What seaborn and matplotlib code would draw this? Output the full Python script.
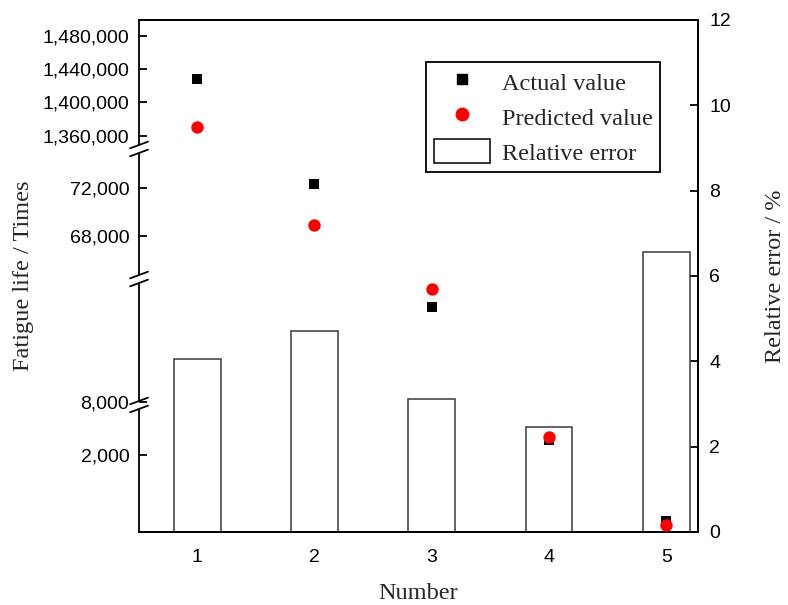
import numpy as np
import matplotlib
matplotlib.use('Agg')
import matplotlib.pyplot as plt
import seaborn as sns
from matplotlib.lines import Line2D
from matplotlib.patches import Patch
from matplotlib.ticker import FixedLocator, FuncFormatter, NullLocator

sns.set_theme(style="ticks")
plt.rcParams['font.family'] = ['Liberation Sans', 'DejaVu Sans']
serif = ['Liberation Serif', 'DejaVu Serif']

# data
number = [1, 2, 3, 4, 5]
actual = [1427700, 72380, 9613, 2241, 904]
predicted = [1370000, 68930, 9913, 2297, 845]
rel_error = [4.05, 4.71, 3.12, 2.46, 6.56]

left_ticks = [2000, 8000, 68000, 72000, 1360000, 1400000, 1440000, 1480000]
right_ticks = [0, 2, 4, 6, 8, 10, 12]

# broken left axis: value range of each piece and where it ends (axes fraction)
seg_lo = [722, 7949, 64375, 1344025]
seg_hi = [2830, 10081, 75323, 1498860]
seg_top = [0.248, 0.494, 0.748, 1.0]

vk, fk = [], []
start = 0.0
for lo, hi, top in zip(seg_lo, seg_hi, seg_top):
    vk += [lo, hi]
    fk += [start, top]
    start = top + 1e-9
vk = np.array(vk, float)
fk = np.array(fk, float)
s_lo = (fk[1] - fk[0]) / (vk[1] - vk[0])
s_hi = (fk[-1] - fk[-2]) / (vk[-1] - vk[-2])


def fwd(v):
    v = np.asarray(v, float)
    out = np.interp(v, vk, fk)
    out = np.where(v < vk[0], fk[0] + (v - vk[0]) * s_lo, out)
    out = np.where(v > vk[-1], fk[-1] + (v - vk[-1]) * s_hi, out)
    return out


def inv(f):
    f = np.asarray(f, float)
    out = np.interp(f, fk, vk)
    out = np.where(f < fk[0], vk[0] + (f - fk[0]) / s_lo, out)
    out = np.where(f > fk[-1], vk[-1] + (f - fk[-1]) / s_hi, out)
    return out


fig = plt.figure(figsize=(7.88, 6.05), dpi=100)
ax = fig.add_axes([0.1764, 0.1207, 0.7094, 0.8463])
ax2 = ax.twinx()

# relative error bars on the right axis
sns.barplot(x=number, y=rel_error, native_scale=True, width=0.4, color='white',
            edgecolor='#3a3a3a', linewidth=1.1, errorbar=None, ax=ax2)
ax2.set_ylim(0, 12)
ax2.set_yticks(right_ticks)
ax2.set_ylabel('Relative error / %', family=serif, fontsize=17.5)
ax2.yaxis.set_label_coords(1.12, 0.5)

# fatigue life points on the broken left axis
ax.set_zorder(ax2.get_zorder() + 1)
ax.patch.set_visible(False)
ax.set_yscale('function', functions=(fwd, inv))
sns.scatterplot(x=number, y=actual, marker='s', s=55, color='black', linewidth=0,
                ax=ax, legend=False, zorder=3)
sns.scatterplot(x=number, y=predicted, marker='o', s=80, color='red', linewidth=0,
                ax=ax, legend=False, zorder=4)
ax.set_ylim(seg_lo[0], seg_hi[-1])
ax.yaxis.set_major_locator(FixedLocator(left_ticks))
ax.yaxis.set_minor_locator(NullLocator())
ax.yaxis.set_major_formatter(FuncFormatter(lambda v, p: f'{v:,.0f}'))
ax.set_xlim(0.505, 5.27)
ax.set_xticks(number)
ax.set_xlabel('Number', family=serif, fontsize=17.5)
ax.xaxis.set_label_coords(0.5, -0.1)
ax.set_ylabel('Fatigue life / Times', family=serif, fontsize=17.5)
ax.yaxis.set_label_coords(-0.187, 0.5)

for a in (ax, ax2):
    for sp in a.spines.values():
        sp.set_linewidth(1.3)
        sp.set_color('black')
    a.spines['left'].set_visible(False)
ax.tick_params(axis='y', direction='in', length=6, width=1.3, labelsize=14, pad=7, colors='black')
ax.tick_params(axis='x', length=0, labelsize=14, pad=12, colors='black')
ax2.tick_params(axis='y', direction='in', length=6, width=1.3, labelsize=14, pad=8, colors='black')

# left spine pieces with the break marks
gap, dx, dy = 0.0078, 0.016, 0.0065
edges = [0.0] + [b for t in seg_top[:-1] for b in (t - gap, t + gap)] + [1.0]
for y0, y1 in zip(edges[::2], edges[1::2]):
    ax.plot([0, 0], [y0, y1], color='black', lw=1.3, transform=ax.transAxes,
            clip_on=False, solid_capstyle='butt')
for t in seg_top[:-1]:
    for s in (-gap, gap):
        ax.plot([-dx, dx], [t + s - dy, t + s + dy], color='black', lw=1.3,
                transform=ax.transAxes, clip_on=False)

handles = [
    Line2D([], [], marker='s', color='black', linestyle='none', markersize=7.2),
    Line2D([], [], marker='o', color='red', linestyle='none', markersize=9),
    Patch(facecolor='white', edgecolor='black', linewidth=1.1),
]
leg = ax.legend(handles, ['Actual value', 'Predicted value', 'Relative error'],
                loc='upper right', bbox_to_anchor=(0.932, 0.918),
                prop={'family': serif, 'size': 17.5}, frameon=True, fancybox=False,
                edgecolor='black', framealpha=1, handlelength=2.3, handleheight=1.15,
                handletextpad=0.5, labelspacing=0.4, borderpad=0.3, borderaxespad=0)
leg.get_frame().set_linewidth(1.3)

fig.savefig('out.png', dpi=100)
